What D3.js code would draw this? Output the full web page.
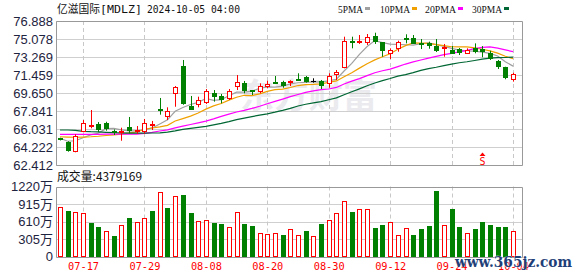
<!DOCTYPE html>
<html><head><meta charset="utf-8">
<script src="https://cdn.jsdelivr.net/npm/d3@7"></script>
<style>html,body{margin:0;padding:0;background:#fff;}svg{display:block}</style>
</head><body>
<svg id="c" width="578" height="276"></svg>
<script>
const dates = ["07-12","07-15","07-16","07-17","07-18","07-19","07-22","07-23","07-24","07-25","07-26","07-29","07-30","07-31","08-01","08-02","08-05","08-06","08-07","08-08","08-09","08-12","08-13","08-14","08-15","08-16","08-19","08-20","08-21","08-22","08-23","08-26","08-27","08-28","08-29","08-30","09-03","09-04","09-05","09-06","09-09","09-10","09-11","09-12","09-13","09-16","09-17","09-18","09-19","09-20","09-23","09-24","09-25","09-26","09-27","09-30","10-01","10-02","10-03","10-04"];
const open  = [65.10,64.75,63.75,65.70,66.23,66.53,66.63,65.80,65.63,66.23,65.70,65.73,66.33,68.04,67.21,69.52,72.36,68.34,68.41,68.64,69.65,69.35,69.12,70.28,70.62,69.95,69.78,70.28,70.79,70.79,70.69,71.06,71.26,70.90,70.88,70.52,71.53,72.13,74.85,74.78,74.71,75.38,74.74,73.57,74.04,75.21,75.21,74.64,74.64,74.37,74.10,74.00,74.04,73.60,74.17,74.07,73.64,72.87,72.23,70.96];
const high  = [65.15,64.80,65.50,66.93,67.94,66.73,66.76,65.99,66.16,67.24,66.33,67.04,66.84,69.15,68.21,70.35,72.97,69.35,69.28,70.05,69.95,69.55,70.05,71.46,70.86,69.95,70.62,70.88,71.36,70.88,70.93,71.63,71.36,71.13,70.96,71.63,71.96,75.31,75.31,75.48,75.58,75.71,74.74,74.14,74.91,75.55,75.48,75.08,74.81,75.08,74.58,74.37,74.17,74.14,74.64,74.37,73.90,72.97,72.29,71.69];
const low   = [64.88,63.75,63.69,65.70,66.10,65.73,65.86,65.43,64.85,65.60,65.56,65.56,65.93,67.47,66.93,68.27,68.47,67.97,68.21,68.54,68.78,68.61,68.95,69.95,69.62,69.45,69.62,70.12,70.55,70.18,70.35,70.86,70.69,70.69,70.05,70.18,70.96,72.13,74.14,74.58,74.48,74.58,73.30,73.07,73.80,74.64,74.64,74.07,74.10,73.77,73.30,73.57,73.47,73.60,73.64,73.24,72.97,72.06,71.03,70.79];
const close = [64.92,63.85,65.33,66.60,66.40,65.93,66.03,65.56,65.85,65.82,65.93,66.60,66.50,67.87,67.84,70.22,68.54,67.97,68.95,69.85,69.25,68.95,69.88,70.76,69.85,69.75,70.38,70.58,70.69,70.35,70.83,70.96,70.76,70.90,70.35,71.36,71.79,74.88,74.71,74.91,75.31,74.78,73.87,73.97,74.78,75.08,74.64,74.54,74.37,73.90,74.24,73.64,73.62,73.97,73.80,73.74,73.04,72.29,71.13,71.56];
const prevClose0 = 64.80;
const volume = [857,793,770,753,584,514,439,357,543,671,601,665,793,1119,845,1054,1077,763,613,631,584,566,509,770,566,532,404,387,404,369,474,369,444,352,566,631,758,962,776,822,822,497,549,601,369,491,369,479,532,1141,543,828,514,404,479,601,549,514,514,437.9169];
const ma5  = [65.10,64.80,64.85,65.15,65.44,65.62,66.06,66.10,65.95,65.84,65.84,65.95,66.14,66.54,66.95,67.81,68.19,68.49,68.70,69.11,68.91,68.99,69.38,69.74,69.74,69.84,70.12,70.26,70.25,70.35,70.57,70.68,70.72,70.76,70.76,70.87,71.03,71.86,72.62,73.53,74.32,74.92,74.72,74.57,74.54,74.50,74.47,74.60,74.68,74.51,74.34,74.14,73.96,73.88,73.86,73.76,73.64,73.37,72.80,72.35];
const ma10 = [65.25,65.22,65.20,65.22,65.25,65.30,65.38,65.45,65.52,65.64,65.73,66.01,66.13,66.25,66.40,66.83,67.08,67.32,67.64,68.03,68.36,68.59,68.93,69.22,69.42,69.38,69.56,69.82,69.99,70.04,70.20,70.40,70.49,70.51,70.56,70.72,70.86,71.29,71.69,72.15,72.59,72.98,73.29,73.59,74.04,74.41,74.69,74.66,74.63,74.52,74.42,74.30,74.28,74.28,74.18,74.05,73.89,73.66,73.34,73.11];
const ma20 = [65.50,65.50,65.50,65.50,65.50,65.50,65.52,65.52,65.52,65.52,65.52,65.60,65.70,65.83,65.95,66.15,66.32,66.48,66.65,66.83,67.05,67.30,67.53,67.74,67.91,68.10,68.32,68.57,68.81,69.04,69.28,69.50,69.71,69.86,69.99,70.05,70.21,70.55,70.84,71.09,71.40,71.69,71.89,72.05,72.30,72.56,72.78,72.97,73.16,73.33,73.51,73.64,73.78,73.94,74.11,74.23,74.29,74.16,73.98,73.81];
const ma30 = [65.93,65.93,65.90,65.80,65.76,65.74,65.70,65.66,65.64,65.62,65.62,65.62,65.63,65.65,65.72,65.85,66.00,66.10,66.20,66.30,66.45,66.60,66.78,66.98,67.13,67.28,67.42,67.56,67.72,67.90,68.10,68.34,68.52,68.66,68.79,68.97,69.16,69.48,69.77,70.07,70.38,70.66,70.90,71.11,71.34,71.50,71.70,71.92,72.10,72.24,72.40,72.56,72.69,72.79,72.92,73.06,73.15,73.20,73.22,73.26];
const maNames = ["5PMA","10PMA","20PMA","30PMA"];
const maColors = ["#a0a0a0","#f0a000","#ff00ff","#006633"];
const priceTicks = [76.888,75.078,73.269,71.459,69.650,67.841,66.031,64.222,62.412];
const priceTickLabels = ["76.888","75.078","73.269","71.459","69.650","67.841","66.031","64.222","62.412"];
const volTicks = [1220,915,610,305,0];
const volTickLabels = ["1220万","915万","610万","305万","0"];
const xTickLabels = ["07-17","07-29","08-08","08-20","08-30","09-12","09-24","10-04"];
const dividendDate = "09-30";
const titleName = "亿滋国际", titleCode = "[MDLZ]", titleTime = "2024-10-05 04:00";

const svg = d3.select("#c");
const L = 56, R = 522, PT = 21, PB = 165, VT = 186.5, VB = 256.5;
const x = d3.scalePoint().domain(dates).range([60, 513]);
const yP = d3.scaleLinear().domain([62.412, 76.888]).range([PB, PT]);
const yV = d3.scaleLinear().domain([0, 1220]).range([VB, VT]);
const crisp = v => Math.round(v) + 0.5;
const RED = "#ff0000", GREEN = "#008000";

// watermark
svg.append("text").attr("x", 240).attr("y", 108).attr("font-family", "Noto Sans CJK SC")
  .attr("font-weight", "bold").attr("font-size", 34).attr("fill", "#ebebef")
  .attr("textLength", 137).attr("lengthAdjust", "spacingAndGlyphs").text("东方财富");

// grids
const grid = svg.append("g");
priceTicks.forEach(t => grid.append("line").attr("x1", L).attr("x2", R)
  .attr("y1", crisp(yP(t))).attr("y2", crisp(yP(t))).attr("stroke", "#cfcfcf"));
volTicks.slice(1, 4).forEach(t => grid.append("line").attr("x1", L).attr("x2", R)
  .attr("y1", crisp(yV(t))).attr("y2", crisp(yV(t))).attr("stroke", "#cfcfcf"));
xTickLabels.forEach(d => {
  const xx = crisp(x(d));
  grid.append("line").attr("x1", xx).attr("x2", xx).attr("y1", PT).attr("y2", PB)
    .attr("stroke", "#c8c8c8").attr("stroke-dasharray", "4,3");
  grid.append("line").attr("x1", xx).attr("x2", xx).attr("y1", VT).attr("y2", VB)
    .attr("stroke", "#c8c8c8").attr("stroke-dasharray", "4,3");
});

// borders
const bc = "#999";
svg.append("path").attr("d", `M${L+0.5},${PB+0.5}V${PT+0.5}H${R+0.5}V${PB+0.5}H${L+0.5}`)
  .attr("fill", "none").attr("stroke", bc);
svg.append("path").attr("d", `M${L+0.5},${crisp(VB)}V${crisp(VT)}H${R+0.5}V${crisp(VB)}H${L+0.5}`)
  .attr("fill", "none").attr("stroke", bc);

// axes
const axP = svg.append("g").attr("transform", `translate(${L},0)`)
  .call(d3.axisLeft(yP).tickValues(priceTicks).tickFormat((d, i) => priceTickLabels[i]).tickSize(0).tickPadding(3));
const axV = svg.append("g").attr("transform", `translate(${L},0)`)
  .call(d3.axisLeft(yV).tickValues(volTicks).tickFormat((d, i) => volTickLabels[i]).tickSize(0).tickPadding(3));
[axP, axV].forEach(a => {
  a.select(".domain").remove();
  a.selectAll("text").attr("font-family", "'Liberation Sans', Arial, 'Noto Sans CJK SC'")
    .attr("font-size", 13).attr("fill", "#1e2440");
});
const axX = svg.append("g").attr("transform", `translate(0,${VB})`)
  .call(d3.axisBottom(x).tickValues(xTickLabels).tickSize(0).tickPadding(6));
axX.select(".domain").remove();
axX.selectAll("text").attr("font-family", "'DejaVu Sans Mono', monospace").attr("font-size", 11)
  .attr("fill", RED).attr("textLength", 31).attr("lengthAdjust", "spacingAndGlyphs");

// MA lines
const mas = [ma5, ma10, ma20, ma30];
mas.forEach((m, k) => {
  svg.append("path").datum(m).attr("fill", "none").attr("stroke", maColors[k]).attr("stroke-width", 1.2)
    .attr("d", d3.line().x((d, i) => x(dates[i])).y(d => yP(d)));
});

// candles
const cg = svg.append("g");
dates.forEach((d, i) => {
  const xc = Math.round(x(d));
  const o = open[i], c = close[i];
  const col = c > o ? RED : (c < o ? GREEN : "#000");
  cg.append("line").attr("x1", xc + 0.5).attr("x2", xc + 0.5)
    .attr("y1", yP(high[i])).attr("y2", yP(low[i])).attr("stroke", col);
  const yt = yP(Math.max(o, c)), yb = yP(Math.min(o, c));
  if (c === o) {
    cg.append("line").attr("x1", xc - 2).attr("x2", xc + 3).attr("y1", crisp(yt)).attr("y2", crisp(yt)).attr("stroke", col);
  } else if (c > o) {
    const h = Math.max(yb - yt, 1);
    if (h < 2.5) {
      cg.append("rect").attr("x", xc - 2).attr("y", Math.round(yt)).attr("width", 5).attr("height", Math.max(2, Math.round(h))).attr("fill", col);
    } else {
      cg.append("rect").attr("x", xc - 1.5).attr("y", Math.round(yt) + 0.5).attr("width", 4).attr("height", Math.round(h) - 1)
        .attr("fill", "#fff").attr("stroke", col);
    }
  } else {
    cg.append("rect").attr("x", xc - 2).attr("y", Math.round(yt)).attr("width", 5).attr("height", Math.max(2, Math.round(yb - yt))).attr("fill", col);
  }
});

// dividend marker
const dx = Math.round(x(dividendDate)) + 0.5;
svg.append("path").attr("d", `M${dx},152.5L${dx+3},156L${dx-3},156Z`).attr("fill", RED);
svg.append("text").attr("x", dx).attr("y", 165).attr("text-anchor", "middle")
  .attr("font-family", "'DejaVu Sans Mono', monospace").attr("font-size", 10).attr("fill", RED).text("S");

// volume bars
const vg = svg.append("g");
dates.forEach((d, i) => {
  const xc = Math.round(x(d));
  const pc = i === 0 ? prevClose0 : close[i - 1];
  const up = close[i] >= pc;
  const yt = Math.round(yV(volume[i]));
  const yb = Math.round(yV(0)) - 1;
  if (up) {
    vg.append("rect").attr("x", xc - 1.5).attr("y", yt + 0.5).attr("width", 4).attr("height", yb - yt)
      .attr("fill", "#fff").attr("stroke", RED);
  } else {
    vg.append("rect").attr("x", xc - 2).attr("y", yt).attr("width", 5).attr("height", yb - yt + 1).attr("fill", GREEN);
  }
});

// title & legend
const mono = "'DejaVu Sans Mono', 'Liberation Mono', monospace";
svg.append("text").attr("x", 57).attr("y", 13).attr("font-family", "'Noto Sans CJK SC'").attr("font-size", 11.5)
  .attr("fill", "#111").attr("textLength", 43).attr("lengthAdjust", "spacingAndGlyphs").text(titleName);
svg.append("text").attr("x", 100).attr("y", 13).attr("font-family", mono).attr("font-size", 11)
  .attr("fill", "#111").attr("textLength", 42).attr("lengthAdjust", "spacingAndGlyphs").text(titleCode);
svg.append("text").attr("x", 147).attr("y", 13).attr("font-family", mono).attr("font-size", 11)
  .attr("fill", "#111").attr("textLength", 93).attr("lengthAdjust", "spacingAndGlyphs").text(titleTime);

const legX = [338, 380, 425, 472], legW = [25, 30, 31, 30];
maNames.forEach((n, k) => {
  svg.append("text").attr("x", legX[k]).attr("y", 13).attr("font-family", "'Liberation Serif', serif").attr("font-size", 11)
    .attr("fill", "#111").attr("textLength", legW[k]).attr("lengthAdjust", "spacingAndGlyphs").text(n);
  svg.append("rect").attr("x", legX[k] + legW[k] + 2).attr("y", 7).attr("width", 5).attr("height", 3).attr("fill", maColors[k]);
});

svg.append("text").attr("x", 57).attr("y", 181).attr("font-family", "'Noto Sans CJK SC'").attr("font-size", 12)
  .attr("fill", "#111").attr("textLength", 85).attr("lengthAdjust", "spacingAndGlyphs")
  .text("成交量:" + Math.round(volume[volume.length - 1] * 10000));

// site watermark
svg.append("text").attr("x", 455).attr("y", 267).attr("font-family", "'DejaVu Serif', serif").attr("font-weight", "bold")
  .attr("font-size", 15).attr("fill", "#1f3f78").attr("stroke", "#fff").attr("stroke-width", 0.6)
  .attr("paint-order", "stroke").attr("textLength", 117).attr("lengthAdjust", "spacingAndGlyphs").text("www.365jz.com");
</script>
</body></html>
